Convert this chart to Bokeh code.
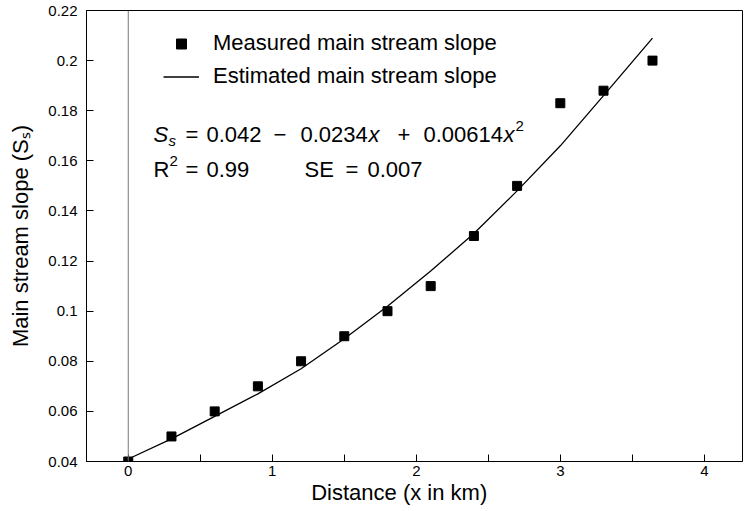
from bokeh.plotting import figure
from bokeh.models import FixedTicker, Span, Label, Legend, LegendItem, Range1d
from bokeh.embed import file_html
from bokeh.resources import INLINE

# ---- data ----
distance_km = [0, 0.3, 0.6, 0.9, 1.2, 1.5, 1.8, 2.1, 2.4, 2.7, 3.0, 3.3, 3.64]
measured_slope = [0.040, 0.050, 0.060, 0.070, 0.080, 0.090, 0.100, 0.110, 0.130, 0.150, 0.183, 0.188, 0.200]
curve_x = [0, 0.3, 0.6, 0.9, 1.2, 1.5, 1.8, 2.1, 2.4, 2.7, 3.0, 3.3, 3.64]
curve_y = [0.041, 0.049, 0.058, 0.067, 0.077, 0.089, 0.102, 0.116, 0.131, 0.148, 0.166, 0.186, 0.209]
x_ticks = [0, 1, 2, 3, 4]
x_minor_ticks = [0.5, 1.5, 2.5, 3.5]
x_tick_labels = ["0", "1", "2", "3", "4"]
y_ticks = [0.04, 0.06, 0.08, 0.10, 0.12, 0.14, 0.16, 0.18, 0.20, 0.22]
y_tick_labels = ["0.04", "0.06", "0.08", "0.1", "0.12", "0.14", "0.16", "0.18", "0.2", "0.22"]

FONT = "Liberation Sans"
W, H = 747, 511
BL, BR, BT, BB = 86, 5, 10, 50
X0, X1 = -0.29, 4.265
Y0, Y1 = 0.04, 0.22

p = figure(width=W, height=H, x_range=Range1d(X0, X1), y_range=Range1d(Y0, Y1),
           output_backend="svg", toolbar_location=None,
           min_border_left=BL, min_border_right=BR, min_border_top=BT, min_border_bottom=BB)
p.grid.visible = False
p.outline_line_color = "black"
p.outline_line_width = 1
p.background_fill_color = "white"
p.border_fill_color = "white"

# axes
p.xaxis.ticker = FixedTicker(ticks=x_ticks, minor_ticks=x_minor_ticks)
p.xaxis.major_label_overrides = {t: l for t, l in zip(x_ticks, x_tick_labels)}
p.yaxis.ticker = FixedTicker(ticks=y_ticks)
p.yaxis.major_label_overrides = {t: l for t, l in zip(y_ticks, y_tick_labels)}
for ax in (p.xaxis[0], p.yaxis[0]):
    ax.major_tick_in = 7
    ax.major_tick_out = 0
    ax.minor_tick_in = 7
    ax.minor_tick_out = 0
    ax.axis_line_color = "black"
    ax.major_tick_line_color = "black"
    ax.minor_tick_line_color = "black"
    ax.major_label_text_font = FONT
    ax.major_label_text_font_size = "15px"
    ax.major_label_text_color = "black"
    ax.axis_label_text_font = FONT
    ax.axis_label_text_font_size = "22px"
    ax.axis_label_text_font_style = "normal"
    ax.axis_label_text_color = "black"
p.yaxis.minor_tick_line_color = None
# trailing no-break spaces nudge the centred title a little to the left, as in the reference
p.xaxis.axis_label = "Distance (x in km)" + "\u00a0" * 5
p.yaxis.axis_label = "Main stream slope (S\u209b)"
p.xaxis.major_label_standoff = 4
p.xaxis.axis_label_standoff = 1
p.yaxis.major_label_standoff = 9
p.yaxis.axis_label_standoff = 12

# vertical line at x = 0
p.add_layout(Span(location=0, dimension="height", line_color="#777777", line_width=1))

ln = p.line(curve_x, curve_y, line_color="black", line_width=1.3)
sc = p.scatter(distance_km, measured_slope, marker="square", size=9,
               fill_color="black", line_color="black")

legend = Legend(items=[LegendItem(label="Measured main stream slope", renderers=[sc]),
                       LegendItem(label="Estimated main stream slope", renderers=[ln])],
                location=(77, 372), border_line_color=None, background_fill_alpha=0,
                padding=0, margin=0, spacing=7, glyph_width=36, glyph_height=25,
                label_height=25, label_standoff=14, label_text_font=FONT,
                label_text_font_size="22px", label_text_color="black")
p.add_layout(legend)

# helpers: page pixel -> data coordinates
FX0, FX1 = BL, W - BR
FY0, FY1 = BT, H - BB
def px(xp):
    return X0 + (xp - FX0) / (FX1 - FX0) * (X1 - X0)
def py(yp):
    return Y1 - (yp - FY0) / (FY1 - FY0) * (Y1 - Y0)

def lab(text, xp, yp, size="22px", style="normal"):
    p.add_layout(Label(x=px(xp), y=py(yp), text=text, text_font=FONT, text_font_size=size,
                       text_font_style=style, text_color="black",
                       text_baseline="alphabetic", text_align="left"))

# equation line 1
lab("S", 153, 134, style="italic")
lab("s", 168, 140, size="15px", style="italic")
lab("=", 185, 134)
lab("0.042", 206, 134)
lab("\u2212", 273, 134)
lab("0.0234", 300, 134)
lab("x", 368, 134, style="italic")
lab("+", 397, 134)
lab("0.00614", 423, 134)
lab("x", 503, 134, style="italic")
lab("2", 515, 125, size="15px")
# equation line 2
lab("R", 153, 169)
lab("2", 169, 160, size="15px")
lab("=", 185, 169)
lab("0.99", 206, 169)
lab("SE", 304, 169)
lab("=", 345, 169)
lab("0.007", 367, 169)

open("out.html", "w").write(file_html(p, INLINE))
